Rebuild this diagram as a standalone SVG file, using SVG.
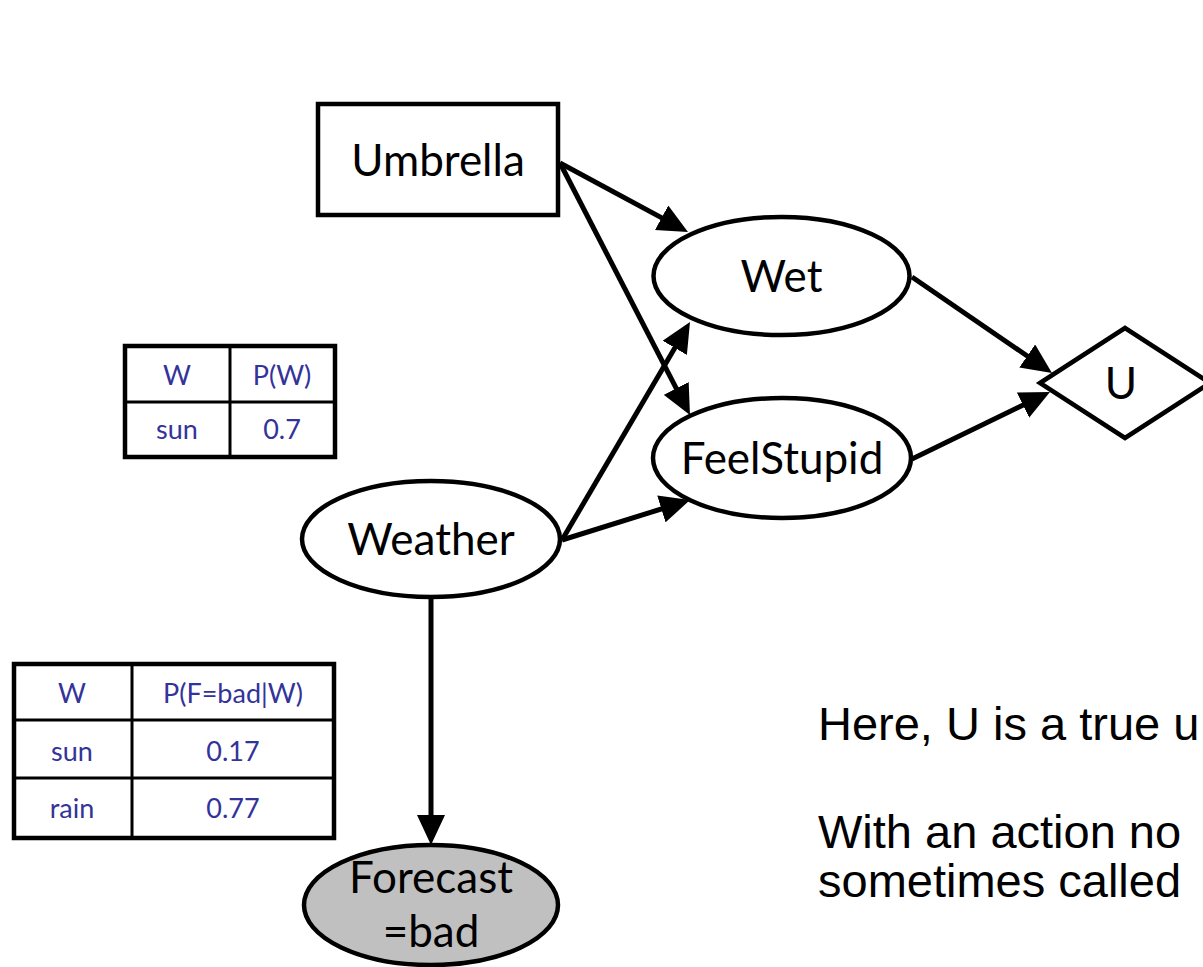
<svg xmlns="http://www.w3.org/2000/svg" width="1203" height="967" viewBox="0 0 1203 967">
<style>
.node{fill:#fff;stroke:#000;stroke-width:4.5}
.obs{fill:#c0c0c0;stroke:#000;stroke-width:4.5}
.lbl{font-family:Lato,"Open Sans",sans-serif;font-size:44px;fill:#000;text-anchor:middle}
.edge{stroke:#000;stroke-width:5;fill:none;marker-end:url(#ah)}
.tbl{fill:#fff;stroke:#000;stroke-width:4.5}
.grid{stroke:#000;stroke-width:3}
.tt{font-family:Lato,"Open Sans",sans-serif;font-size:27px;fill:#333399;text-anchor:middle}
.note{font-family:"Liberation Sans",Arial,sans-serif;font-size:47px;fill:#000}
</style>
<defs>
<marker id="ah" markerUnits="userSpaceOnUse" markerWidth="30" markerHeight="28" refX="15" refY="14" orient="auto" viewBox="0 0 30 28">
<path d="M0,0 L30,14 L0,28 z" fill="#000"/>
</marker>
</defs>
<rect width="1203" height="967" fill="#fff"/>
<g id="connectors">
<line class="edge" x1="560" y1="163" x2="674.8" y2="224.9"/>
<line class="edge" x1="560" y1="163" x2="683.1" y2="401.7"/>
<line class="edge" x1="562" y1="540" x2="682.4" y2="334.9"/>
<line class="edge" x1="562" y1="540" x2="675.7" y2="504.5"/>
<line class="edge" x1="912" y1="277" x2="1039.6" y2="364.5"/>
<line class="edge" x1="912" y1="459" x2="1036.5" y2="398.6"/>
<line class="edge" x1="431" y1="598" x2="431" y2="830"/>
</g>
<g id="umbrella">
<rect class="node" x="318" y="104" width="240" height="111"/>
<text class="lbl" x="438" y="176">Umbrella</text>
</g>
<g id="wet">
<ellipse class="node" cx="781.5" cy="276" rx="128" ry="59"/>
<text class="lbl" x="781.5" y="292">Wet</text>
</g>
<g id="feelstupid">
<ellipse class="node" cx="782" cy="458" rx="129" ry="60"/>
<text class="lbl" x="782" y="474">FeelStupid</text>
</g>
<g id="u">
<polygon class="node" points="1040,383 1125,328 1210,383 1125,438"/>
<text class="lbl" x="1121" y="399">U</text>
</g>
<g id="weather">
<ellipse class="node" cx="431" cy="539" rx="129" ry="58"/>
<text class="lbl" x="431" y="555">Weather</text>
</g>
<g id="forecast">
<ellipse class="obs" cx="431" cy="905" rx="127" ry="60"/>
<text class="lbl" x="431" y="893">Forecast</text>
<text class="lbl" x="431" y="947">=bad</text>
</g>
<g id="table-pw">
<rect class="tbl" x="125" y="346" width="210" height="111"/>
<line class="grid" x1="230" y1="346" x2="230" y2="457"/>
<line class="grid" x1="125" y1="402" x2="335" y2="402"/>
<text class="tt" x="177" y="385">W</text>
<text class="tt" x="282" y="385">P(W)</text>
<text class="tt" x="177" y="439">sun</text>
<text class="tt" x="282" y="439">0.7</text>
</g>
<g id="table-pf">
<rect class="tbl" x="14" y="664" width="320" height="174"/>
<line class="grid" x1="132" y1="664" x2="132" y2="838"/>
<line class="grid" x1="14" y1="720" x2="334" y2="720"/>
<line class="grid" x1="14" y1="778" x2="334" y2="778"/>
<text class="tt" x="72" y="703">W</text>
<text class="tt" x="233" y="703">P(F=bad|W)</text>
<text class="tt" x="72" y="761">sun</text>
<text class="tt" x="233" y="761">0.17</text>
<text class="tt" x="72" y="818">rain</text>
<text class="tt" x="233" y="818">0.77</text>
</g>
<g id="notes">
<text class="note" x="818" y="740">Here, U is a true u</text>
<text class="note" x="818" y="848">With an action no</text>
<text class="note" x="818" y="897">sometimes called</text>
</g>
</svg>
